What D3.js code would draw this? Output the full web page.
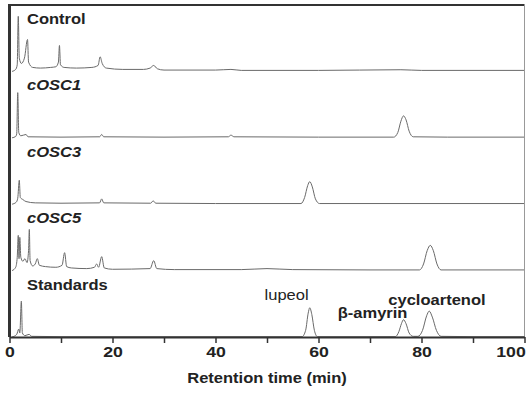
<!DOCTYPE html>
<html>
<head>
<meta charset="utf-8">
<script src="https://cdn.jsdelivr.net/npm/d3@7"></script>
<style>
  html, body { margin: 0; padding: 0; background: #fff; }
  svg { display: block; }
  text { font-family: "Liberation Sans", Arial, sans-serif; fill: #222; }
</style>
</head>
<body>
<div id="chart"></div>
<script>
// Sample names, top to bottom
const samples = ['Control', 'cOSC1', 'cOSC3', 'cOSC5', 'Standards'];
const italicSamples = ['cOSC1', 'cOSC3', 'cOSC5'];

// Traces: [retention time (min), detector signal (% of panel full scale)]
const control = [
  [0.5, 0], [1.2, 3], [1.5, 10], [1.7, 83], [1.9, 20], [2.3, 12], [2.9, 20], [3.5, 48],
  [3.7, 14], [4.5, 6], [6, 5], [8, 6], [9, 7], [9.5, 14], [9.7, 39], [9.9, 10], [10.6, 6],
  [13, 5], [16, 6], [17.2, 9], [17.6, 22], [18, 12], [18.8, 5], [22, 3], [26, 3],
  [27.3, 5], [28, 9], [28.7, 4], [30, 2], [40, 2], [43, 3], [45, 1.5], [60, 1.5],
  [76, 2.5], [80, 1.5], [100, 1.5]
];
const cosc1 = [
  [0.5, 0], [1.2, 2], [1.4, 6], [1.6, 68], [1.8, 8], [2.2, 3], [3.2, 5], [3.6, 1.5],
  [10, 1], [17.5, 1.5], [17.9, 5], [18.3, 1.5], [30, 1], [42.5, 1.5], [43, 4], [43.6, 1.5],
  [60, 1], [74.6, 1], [75.4, 8], [76, 25], [76.5, 33], [77, 27], [77.6, 10], [78.4, 1.5],
  [85, 1], [100, 1]
];
const cosc3 = [
  [0.5, 0], [1.3, 3], [1.6, 9], [1.9, 36], [2.1, 10], [2.6, 7], [3.2, 4], [5, 2],
  [10, 1.5], [17.5, 2], [17.9, 8], [18.3, 2], [27.4, 1.5], [27.9, 5], [28.4, 1.5],
  [40, 1], [56.6, 1], [57.3, 10], [57.9, 28], [58.3, 34], [58.8, 26], [59.4, 8],
  [60.2, 1], [70, 1], [100, 1]
];
const cosc5 = [
  [0.5, 0], [1.2, 5], [1.5, 20], [1.7, 53], [1.85, 18], [2.0, 50], [2.2, 20], [2.6, 14],
  [3.0, 18], [3.4, 12], [3.7, 30], [3.85, 62], [4.0, 15], [4.5, 7], [5.0, 10], [5.4, 18],
  [5.8, 8], [7, 6], [9, 5], [10.2, 8], [10.7, 27], [11.1, 6], [12, 4], [15, 3],
  [16.5, 5], [16.9, 10], [17.3, 5], [17.9, 21], [18.4, 4], [20, 2], [27.3, 3], [28, 15],
  [28.6, 3], [32, 1.5], [45, 1.5], [50, 3], [55, 1.5], [70, 1], [79.6, 1], [80.4, 10],
  [81.1, 30], [81.7, 38], [82.3, 30], [83, 10], [83.8, 1], [90, 1], [100, 1]
];
const standards = [
  [0.5, 0], [1.4, 4], [1.8, 12], [2.0, 6], [2.3, 54], [2.5, 6], [3.0, 2], [3.8, 4],
  [4.3, 1], [10, 0.5], [56.8, 0.5], [57.5, 10], [58, 36], [58.3, 44], [58.7, 34],
  [59.2, 10], [59.8, 0.5], [74.9, 0.5], [75.6, 8], [76.1, 20], [76.5, 26], [77, 20],
  [77.6, 6], [78.4, 1], [79.3, 1], [80.2, 10], [81, 32], [81.5, 39], [82.1, 30],
  [82.9, 10], [83.8, 1], [90, 0.5], [100, 0.5]
];
const traces = [control, cosc1, cosc3, cosc5, standards];

// Standard compounds and their retention times (min)
const compoundNames = ['lupeol', 'β-amyrin', 'cycloartenol'];
const compoundTimes = [58.3, 76.5, 81.5];

const xTicks = d3.range(0, 101, 10);

const width = 527;
const height = 393;
const margin = { top: 5, right: 2.5, bottom: 56, left: 9.5 };
const stretch = 1.18; // scanned lettering is wider than the fonts

const svg = d3.select('#chart')
  .append('svg')
  .attr('width', width)
  .attr('height', height);

const x = d3.scaleLinear()
  .domain([0, 100])
  .range([margin.left, width - margin.right]);

const band = d3.scaleBand()
  .domain(samples)
  .range([margin.top, height - margin.bottom])
  .paddingInner(0);

const line = d3.line().curve(d3.curveMonotoneX);

// traces
samples.forEach((name, i) => {
  const y = d3.scaleLinear()
    .domain([0, 100])
    .range([band(name) + band.bandwidth(), band(name)]);

  svg.append('path')
    .datum(traces[i])
    .attr('fill', 'none')
    .attr('stroke', '#6a6a6a')
    .attr('stroke-width', 1)
    .attr('stroke-linejoin', 'round')
    .attr('d', line.x((d) => x(d[0])).y((d) => y(d[1])));

  svg.append('text')
    .attr('transform', `translate(${x(3.4)},${band(name) + 19}) scale(${stretch},1)`)
    .attr('font-size', 14)
    .attr('font-weight', 'bold')
    .attr('font-style', italicSamples.includes(name) ? 'italic' : null)
    .text(name);

  if (name === 'Standards') {
    const labelOffsets = [[-4.5, -37, 'normal'], [-6, -19, 'bold'], [1.5, -32, 'bold']];
    compoundNames.forEach((c, k) => {
      const [dt, dy, weight] = labelOffsets[k];
      svg.append('text')
        .attr('transform', `translate(${x(compoundTimes[k] + dt)},${y(0) + dy}) scale(${stretch},1)`)
        .attr('text-anchor', 'middle')
        .attr('font-size', 14)
        .attr('font-weight', weight)
        .text(c);
    });
  }
});

// frame
const plotBottom = height - margin.bottom;
svg.append('line')
  .attr('x1', x(0)).attr('x2', x(100))
  .attr('y1', margin.top).attr('y2', margin.top)
  .attr('stroke', '#333').attr('stroke-width', 2);
svg.append('line')
  .attr('x1', x(100)).attr('x2', x(100))
  .attr('y1', margin.top).attr('y2', plotBottom)
  .attr('stroke', '#999').attr('stroke-width', 1);
svg.append('line')
  .attr('x1', x(0)).attr('x2', x(0))
  .attr('y1', margin.top - 1).attr('y2', plotBottom)
  .attr('stroke', '#333').attr('stroke-width', 3);

// x axis
const xAxis = svg.append('g')
  .attr('transform', `translate(0,${plotBottom})`)
  .call(d3.axisBottom(x)
    .tickValues(xTicks)
    .tickSize(6)
    .tickSizeOuter(0)
    .tickFormat((d) => (d % 20 === 0 ? d : '')));

xAxis.select('.domain').attr('stroke', '#333').attr('stroke-width', 2);
xAxis.selectAll('.tick line').attr('stroke', '#333').attr('stroke-width', 1.5);
xAxis.selectAll('.tick text')
  .attr('y', 0)
  .attr('dy', null)
  .attr('transform', (d) => `translate(${d === 100 ? -14 : 0},20) scale(${stretch},1)`)
  .attr('font-family', '"Liberation Sans", Arial, sans-serif')
  .attr('font-size', 15)
  .attr('font-weight', 'bold')
  .attr('fill', '#222');

svg.append('text')
  .attr('transform', `translate(${(x(0) + x(100)) / 2},383) scale(${stretch},1)`)
  .attr('text-anchor', 'middle')
  .attr('font-size', 14)
  .attr('font-weight', 'bold')
  .text('Retention time (min)');
</script>
</body>
</html>
